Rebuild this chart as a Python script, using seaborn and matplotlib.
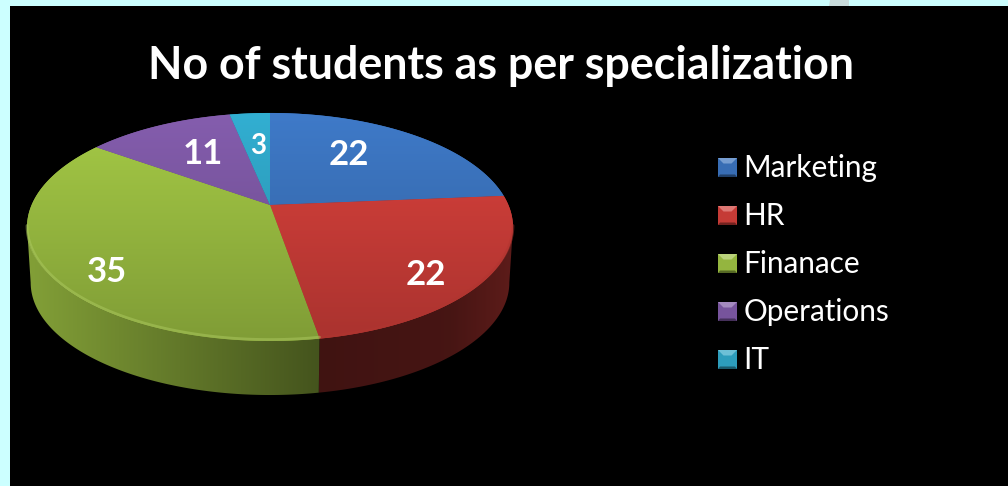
import numpy as np
import matplotlib
matplotlib.use("Agg")
import matplotlib.pyplot as plt
import seaborn as sns
from matplotlib.patches import Rectangle, Polygon
from matplotlib.colors import to_rgb

categories = ["Marketing", "HR", "Finanace", "Operations", "IT"]
values = [22, 22, 35, 11, 3]
colors = ["#3b73bd", "#cf3e39", "#9cbf42", "#7d58a4", "#2fa5c6"]
title = "No of students as per specialization"

sns.set_theme(style="white")
plt.rcParams["font.family"] = ["Lato", "DejaVu Sans"]

CX, CY, A, B, K = 270.0, 205.0, 238.4, 109.8, 0.193
WALL_STOPS = {1: ([319, 450, 514], [0.31, 0.34, 0.45]),
              2: ([25, 200, 319], [0.84, 0.60, 0.44])}
# the disc's silhouette: where the rim is at its widest left and right
T_RIGHT = np.pi / 2 + np.arcsin(K)
T_LEFT = 3 * np.pi / 2 - np.arcsin(K)


def top_xy(t):
    x, y = np.sin(t), np.cos(t)
    d = 1 + K * y
    return CX + A * x / d, CY - B * y / d


def bottom_xy(t):
    px, py = top_xy(t)
    return CX + (px - CX) * 0.985, CY + (py - CY) * 0.985 + 56


def shade(c, f):
    c = np.array(to_rgb(c))
    return tuple(np.clip(c * f if f <= 1 else c + (1 - c) * (f - 1), 0, 1))


fig = plt.figure(figsize=(10.08, 4.86), dpi=100, facecolor="#ccffff")
ax = fig.add_axes([0, 0, 1, 1])
ax.set_xlim(0, 1008)
ax.set_ylim(486, 0)
ax.axis("off")
ax.add_patch(Polygon([[830, 0], [849, 0], [849, 6], [829, 6]], color="#c9dcdc", lw=0))
ax.add_patch(Rectangle((10, 6), 998, 480, color="black", lw=0))

edges = np.cumsum([0] + values) / np.sum(values) * 2 * np.pi

# side wall: gradient clipped to each visible slice
for i, (c, a0, a1) in enumerate(zip(colors, edges[:-1], edges[1:])):
    if i not in WALL_STOPS:
        continue
    ts = np.linspace(max(a0, T_RIGHT), min(a1, T_LEFT), 200)
    tx, ty = top_xy(ts)
    bx, by = bottom_xy(ts)
    poly = Polygon(np.column_stack([np.r_[tx, bx[::-1]], np.r_[ty, by[::-1]]]),
                   closed=True, facecolor="none", edgecolor="none", zorder=2)
    ax.add_patch(poly)
    xs = np.linspace(20, 520, 250)
    f = np.interp(xs, *WALL_STOPS[i])
    img = (np.array(to_rgb(c))[None, None, :] * f[None, :, None]).clip(0, 1)
    im = ax.imshow(img, extent=(20, 520, 400, 180), aspect="auto", zorder=2,
                   interpolation="bilinear")
    im.set_clip_path(poly)

# top face
yy = np.linspace(113, 341, 120)[:, None]
for i, (c, a0, a1) in enumerate(zip(colors, edges[:-1], edges[1:])):
    ts = np.linspace(a0, a1, 160)
    px, py = top_xy(ts)
    verts = np.column_stack([np.r_[CX, px], np.r_[CY, py]])
    poly = Polygon(verts, closed=True, facecolor=c, edgecolor="none", zorder=3)
    ax.add_patch(poly)
    rgb = np.array(to_rgb(c))
    frac = (yy - 113) / 228
    img = (rgb[None, None, :] * (1.06 - 0.24 * frac)[:, :, None]).clip(0, 1)
    im = ax.imshow(img, extent=(20, 520, 341, 113), aspect="auto", zorder=3.1,
                   interpolation="bilinear")
    im.set_clip_path(poly)
    # soft bevel along the front rim
    if i in WALL_STOPS:
        rs = np.linspace(max(a0, T_RIGHT), min(a1, T_LEFT), 120)
        rx, ry = top_xy(rs)
        rim = shade(c, 1.16) if i == 2 else shade(c, 0.85)
        ax.plot(rx, ry - 1.5, color=rim, lw=2.0, alpha=0.5, zorder=3.3,
                solid_capstyle="round")
ax.set_xlim(0, 1008)
ax.set_ylim(486, 0)

# value labels
label_xy = [(349, 155), (426, 275), (107, 272), (203, 154), (258, 146)]
label_fs = [25, 25, 25, 25, 20]
for v, (x, y), fs in zip(values, label_xy, label_fs):
    ax.text(x, y, str(v), color="white", fontsize=fs, fontweight="bold",
            ha="center", va="center", zorder=5)

ax.text(501, 66, title, color="white", fontsize=32.2, fontweight="bold",
        ha="center", va="center", zorder=5)

# legend
for i, (name, c) in enumerate(zip(categories, colors)):
    y = 167.5 + i * 48
    x0, x1, y0, y1 = 718, 737, y - 9.5, y + 9.5
    ins = 5.5
    ax.add_patch(Rectangle((x0, y0), x1 - x0, y1 - y0, facecolor=shade(c, 0.95), lw=0, zorder=4))
    ax.fill([x0, x1, x1 - ins, x0 + ins], [y0, y0, y0 + ins, y0 + ins],
            color=shade(c, 1.3), lw=0, zorder=4.1)
    ax.fill([x0, x1, x1 - 2, x0 + 2], [y1, y1, y1 - 2.5, y1 - 2.5],
            color=shade(c, 0.55), lw=0, zorder=4.1)
    ax.text(743.5, y, name, color="white", fontsize=21.4, ha="left", va="center", zorder=5)

fig.savefig("out.png", dpi=100, facecolor=fig.get_facecolor())
